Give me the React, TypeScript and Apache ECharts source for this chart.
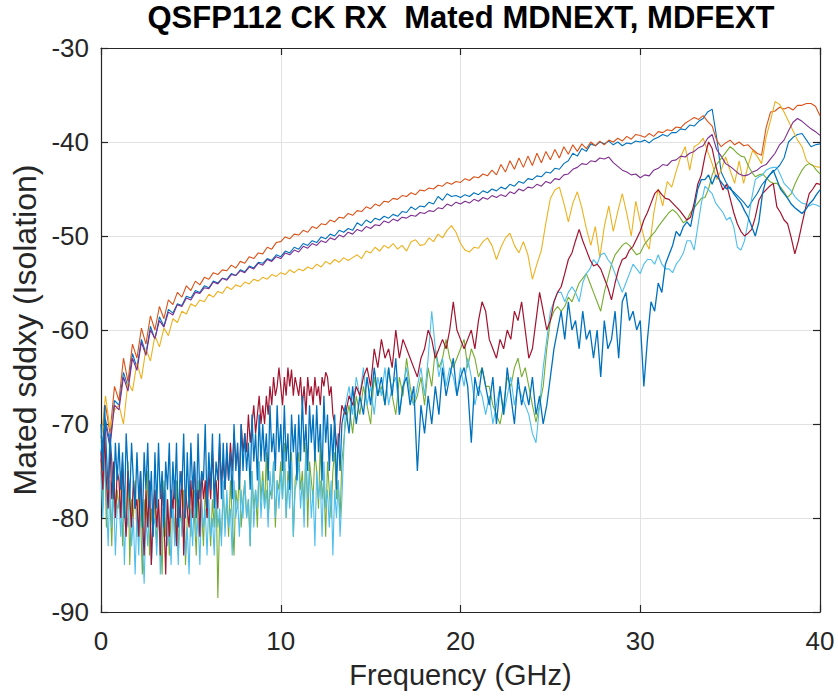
import React, { useEffect, useRef } from "react";
import * as echarts from "echarts";

const TITLE = "QSFP112 CK RX  Mated MDNEXT, MDFEXT";
const X_NAME = "Frequency (GHz)";
const Y_NAME = "Mated sddxy (Isolation)";
const X_MIN = 0;
const X_MAX = 40;
const X_INTERVAL = 10;
const Y_MIN = -90;
const Y_MAX = -30;
const Y_INTERVAL = 10;

// NEXT curves: sampled every 0.25 GHz from 0 to 40 GHz
const NEXT_STEP = 0.25;
// FEXT curves: every 0.1 GHz from 0 to 13.4 GHz, then every 0.2 GHz from 13.6 to 40 GHz
const FEXT_LOW_STEP = 0.1;
const FEXT_HIGH_START = 13.6;
const FEXT_HIGH_STEP = 0.2;

const NEXT_BLUE = [
  -73, -69.5, -72, -67.5, -68, -64.5, -66, -62.5,
  -64, -61, -62.5, -59.6, -61, -58.6, -59.6, -57.8,
  -58.2, -57.2, -57.4, -56.4, -56.6, -55.8, -56, -55.3,
  -55.5, -54.8, -55, -54.5, -54.6, -54, -54.2, -53.6,
  -53.8, -53.2, -53.4, -52.8, -52.9, -52.4, -52.6, -52,
  -52.2, -51.6, -51.8, -51.2, -51.4, -50.8, -51, -50.5,
  -50.7, -50.1, -50.3, -49.8, -50, -49.4, -49.6, -49.2,
  -49.4, -48.6, -48.9, -48.3, -48.6, -48.1, -48.3, -47.9,
  -48.1, -47.7, -47.9, -47.4, -47.5, -46.9, -47.2, -46.8,
  -46.9, -46.4, -46.6, -45.8, -46.2, -45.5, -45.8, -45.7,
  -45.9, -45.6, -45.8, -45.4, -45.6, -45.2, -45.4, -45.0,
  -45.2, -44.8, -45.0, -44.5, -44.7, -44.2, -44.4, -43.9,
  -44.0, -43.6, -43.7, -43.2, -43.3, -42.8, -42.9, -42.3,
  -42.0, -41.2, -41.5, -40.7, -41.0, -40.2, -40.4, -40.0,
  -40.2, -39.9, -40.3, -40.0, -40.4, -40.1, -40.2, -39.9,
  -40.0, -39.8, -40.1, -39.7, -39.5, -39.2, -39.4, -39.0,
  -39.0, -38.6, -38.7, -38.2, -38.3, -37.8, -37.5, -36.8,
  -36.5, -39.5, -43.2, -44.2, -45.0, -45.4, -45.9, -46.4,
  -47.0, -46.2, -45.5, -44.6, -44.0, -43.4, -43.0, -42.5,
  -41.7, -40.0, -39.5, -39.2, -39.1, -39.8, -40.5, -40.3,
  -40.2,
];

const NEXT_ORANGE = [
  -71.5, -68, -71, -66, -67.5, -63, -65.5, -61.5,
  -63, -59.8, -61.5, -58.5, -60, -57.5, -58.8, -56.8,
  -57.3, -56, -56.5, -55.3, -55.8, -54.8, -55.2, -54.4,
  -54.6, -53.9, -54.1, -53.6, -53.7, -53.1, -53.4, -52.7,
  -52.9, -52.2, -52.4, -51.8, -51.9, -51.2, -51.4, -50.7,
  -50.6, -50.1, -50.3, -49.8, -49.9, -49.4, -49.6, -49.0,
  -49.2, -48.7, -48.8, -48.3, -48.5, -48.0, -48.1, -47.6,
  -47.8, -47.3, -47.4, -46.9, -47.1, -46.6, -46.8, -46.3,
  -46.4, -46.0, -46.1, -45.7, -45.8, -45.4, -45.6, -45.1,
  -45.2, -44.9, -45.0, -44.6, -44.7, -44.3, -44.5, -44.2,
  -44.3, -43.9, -44.1, -43.7, -43.8, -43.4, -43.6, -43.0,
  -43.5, -42.4, -43.2, -42.0, -42.9, -41.7, -42.7, -41.5,
  -42.5, -41.2, -42.2, -41.0, -41.9, -40.8, -41.7, -40.5,
  -41.3, -40.3, -41.0, -40.2, -40.7, -40.0, -40.4, -39.9,
  -40.3, -39.8, -40.0, -39.6, -39.9, -39.4, -39.7, -39.2,
  -39.3, -39.5, -39.1, -39.4, -38.9, -39.0, -38.7, -38.8,
  -38.4, -38.5, -38.0, -37.7, -37.4, -37.6, -37.2, -37.8,
  -38.3, -39.8, -40.5, -40.1, -39.8, -40.3, -40.0, -40.4,
  -40.3, -40.8, -41.2, -41.4, -38.5, -36.8, -36.7, -36.3,
  -36.5, -36.3, -36.6, -36.1, -36.1, -35.9, -35.9, -36.2,
  -37.2,
];

const NEXT_YELLOW = [
  -72, -67, -70.5, -68.5, -68, -70, -65.5, -66.5,
  -63.5, -65.2, -62, -63.3, -60.6, -61.8, -59.8, -60.6,
  -58.8, -59.2, -58, -58.3, -57.2, -57.5, -56.8, -57,
  -56.2, -56.5, -55.9, -56.1, -55.4, -55.7, -55.2, -55.4,
  -54.9, -55.1, -54.6, -54.8, -54.4, -54.6, -54.1, -54.3,
  -53.9, -54.1, -53.6, -53.9, -53.5, -53.7, -53.3, -53.5,
  -53.0, -53.3, -52.7, -53.0, -52.5, -52.8, -52.3, -52.6,
  -52.3, -52.0, -52.4, -51.6, -51.8, -51.2, -51.6, -51.0,
  -51.3, -50.8, -51.4, -51.0, -51.6, -50.6, -50.4, -51.0,
  -50.9, -50.2, -50.6, -49.8, -50.2, -49.4, -48.9, -49.6,
  -50.8, -51.5, -51.7, -51.2, -51.3, -50.6, -50.2, -51.0,
  -52.5, -51.2, -50.2, -49.7, -51.0, -51.8, -50.6, -52.0,
  -54.6, -53.0, -51.5, -48.6, -46.0, -45.1, -44.8, -46.5,
  -48.5, -46.5, -45.3, -47.0, -49.2, -51.0, -49.0, -52.3,
  -49.0, -46.8, -49.5, -47.4, -45.5, -47.6, -50.0, -46.3,
  -48.5, -50.5, -51.4, -47.6, -45.0, -46.8, -44.2, -44.8,
  -43.1, -41.6, -40.5, -43.0, -40.5, -40.2, -39.6, -41.0,
  -42.3, -44.0, -43.0, -41.6, -43.0, -44.4, -42.0, -44.4,
  -42.5, -40.9, -41.5, -42.3, -39.5, -37.7, -35.7, -36.0,
  -36.8, -37.8, -38.8, -39.8, -40.5, -42.0, -42.4, -42.6,
  -42.7,
];

const NEXT_PURPLE = [
  -74, -70, -72.5, -68, -68.5, -65, -66.5, -63,
  -64.3, -61.3, -62.7, -60, -60.9, -59, -59.7, -58.1,
  -58.4, -57.3, -57.5, -56.6, -56.8, -56, -56.1, -55.5,
  -55.6, -54.9, -55.1, -54.5, -54.7, -54.1, -54.2, -53.7,
  -53.9, -53.3, -53.5, -52.9, -53.1, -52.5, -52.7, -52.2,
  -52.4, -51.8, -52.0, -51.5, -51.7, -51.1, -51.3, -50.8,
  -51.0, -50.5, -50.7, -50.2, -50.4, -49.9, -50.1, -49.6,
  -49.8, -49.3, -49.5, -49.0, -49.2, -48.8, -48.9, -48.4,
  -48.6, -48.2, -48.4, -48.0, -48.1, -47.8, -47.9, -47.5,
  -47.6, -47.3, -47.4, -47.0, -47.1, -46.6, -46.8, -46.4,
  -46.6, -46.3, -46.5, -46.1, -46.3, -45.9, -46.1, -45.7,
  -45.9, -45.6, -45.8, -45.3, -45.5, -45.0, -45.2, -44.8,
  -44.9, -44.5, -44.7, -44.2, -44.4, -43.9, -44.0, -43.5,
  -43.4, -42.9, -42.7, -42.3, -42.4, -42.0, -42.1, -41.7,
  -41.8, -41.6, -42.2, -42.6, -43.0, -43.2, -43.5, -43.4,
  -43.8, -43.5, -43.6, -43.0, -42.8, -42.4, -42.5, -42.0,
  -41.9, -41.5, -41.6, -41.2, -41.0, -40.6, -40.4, -39.6,
  -39.2, -40.8, -41.5, -42.3, -42.6, -43.0, -43.4, -43.6,
  -43.5, -43.2, -43.0, -42.6, -42.4, -41.8, -41.2, -40.3,
  -39.8, -38.8, -37.9, -37.5, -37.8, -38.2, -38.6, -38.9,
  -39.3,
];

// ---- FEXT, 0 to 13.4 GHz (0.1 GHz steps) ----
const FEXT_GREEN_LOW = [
  -74, -79, -72, -81, -76, -78, -83, -75, -80, -77,
  -79, -75, -83, -77, -81, -74, -85, -78, -80, -76,
  -82, -77, -80, -86, -78, -81, -75, -84, -79, -82,
  -77, -83, -79, -81, -86, -76, -82, -78, -84, -80,
  -78, -82, -76, -84, -79, -81, -77, -85, -80, -78,
  -82, -77, -80, -84, -76, -81, -79, -83, -77, -80,
  -79, -83, -78, -81, -76, -88.5, -80, -82, -77, -81,
  -78, -82, -76, -80, -84, -77, -79, -75, -81, -78,
  -76, -80, -78, -83, -75, -79, -77, -81, -74, -78,
  -75, -79, -73, -80, -77, -78, -74, -81, -76, -77,
  -74, -78, -72, -80, -75, -77, -73, -82, -76, -75,
  -73, -77, -75, -79, -72, -81, -74, -76, -78, -73,
  -75, -79, -72, -78, -76, -82, -74, -77, -80, -75,
  -73, -78, -76, -80, -74,
];

const FEXT_LIGHTBLUE_LOW = [
  -75, -80, -73, -78, -83, -76, -81, -77, -84, -79,
  -78, -82, -76, -85, -79, -81, -77, -83, -80, -86,
  -79, -84, -77, -82, -87, -80, -83, -78, -85, -81,
  -80, -84, -78, -86, -79, -82, -77, -83, -81, -85,
  -78, -83, -80, -85, -77, -82, -79, -84, -81, -86,
  -79, -83, -77, -82, -80, -85, -78, -81, -79, -84,
  -78, -82, -80, -84, -77, -81, -79, -83, -76, -82,
  -77, -81, -79, -84, -76, -80, -78, -82, -77, -80,
  -76, -80, -78, -83, -75, -81, -77, -79, -74, -80,
  -76, -79, -77, -81, -75, -78, -74, -80, -76, -79,
  -75, -78, -73, -80, -76, -79, -74, -82, -77, -76,
  -74, -79, -76, -81, -73, -78, -75, -80, -77, -83,
  -75, -78, -76, -82, -74, -79, -77, -81, -76, -84,
  -77, -80, -76, -82, -78,
];

const FEXT_DARKRED_LOW = [
  -73, -77, -71, -76, -79, -72, -78, -74, -80, -75,
  -76, -80, -74, -79, -82, -75, -78, -81, -76, -79,
  -78, -82, -75, -80, -84, -77, -81, -76, -85, -79,
  -77, -81, -78, -84, -76, -80, -86, -78, -82, -77,
  -79, -76, -83, -78, -80, -75, -84, -77, -79, -81,
  -76, -80, -74, -79, -77, -82, -75, -78, -76, -80,
  -75, -78, -73, -77, -76, -79, -72, -76, -74, -77,
  -73, -76, -72, -75, -71, -74, -73, -76, -70, -73,
  -71, -73, -69, -72, -70, -68, -71, -69, -67, -70,
  -68, -70, -67, -69, -66, -68, -65, -67, -66, -64,
  -66, -68, -65, -67, -64, -66, -64.2, -67, -65, -66,
  -67, -65, -68, -66, -69, -65, -67, -66, -68, -65,
  -67, -66, -68, -65, -66, -64.5, -65, -67, -66, -69,
  -70, -72, -73, -70, -68,
];

const FEXT_BLUE_LOW = [
  -70, -75, -68, -73, -77, -71, -74, -78, -72, -76,
  -72, -77, -73, -80, -71, -75, -78, -72, -76, -79,
  -73, -78, -75, -81, -73, -77, -72, -79, -75, -82,
  -73, -79, -72, -78, -75, -81, -74, -77, -72, -80,
  -74, -78, -72, -81, -75, -77, -71, -80, -73, -79,
  -72, -77, -74, -80, -71, -78, -75, -76, -70, -79,
  -73, -77, -71, -79, -74, -76, -71, -78, -72, -77,
  -72, -76, -73, -78, -70, -75, -72, -77, -70, -75,
  -71, -75, -72, -77, -69, -74, -71, -76, -69, -74,
  -70, -74, -71, -76, -68, -73, -71, -75, -68, -73,
  -70, -75, -68, -74, -71, -77, -69, -73, -70, -76,
  -69, -74, -67, -73, -70, -75, -68, -72, -69, -74,
  -68, -73, -70, -76, -67, -72, -69, -75, -70, -74,
  -69, -77, -71, -75, -70,
];

// ---- FEXT, 13.6 to 40 GHz (0.2 GHz steps) ----
const FEXT_GREEN_HIGH = [
  -70, -68, -71, -67, -69, -66, -68, -70, -65, -67,
  -66, -68, -64, -67, -69, -65, -67, -63, -66, -68,
  -67, -65, -68, -64, -66, -62, -64, -63, -61, -63,
  -64, -63, -62, -61, -64, -62, -63, -65, -64, -66,
  -66, -68, -69, -70, -68, -65, -66, -64, -63, -65,
  -64, -66, -68, -69.8, -68, -66, -62, -59, -58, -57.5,
  -58, -57.5, -56.5, -57, -56, -55, -54.5, -54, -55, -56,
  -57, -58, -56, -54.5, -53, -52, -51.5, -51, -50.7, -51,
  -51.5, -52, -51.8, -51, -50.5, -50, -49.6, -49, -48.5, -48,
  -47.5, -47.2, -47.5, -48, -48.6, -48.3, -47.5, -47, -46.5, -46,
  -45.9, -45, -43.5, -42.5, -42, -41.5, -41, -40.5, -40.8, -41.2,
  -41.5, -41.6, -42.5, -43.2, -43.7, -43.5, -43.4, -43.8, -44.2, -44.4,
  -44.4, -44.8, -45.3, -45.9, -45.5, -44.5, -43.7, -43, -42.5, -42.3,
  -42.5, -43, -43.4,
];

const FEXT_LIGHTBLUE_HIGH = [
  -68, -66, -69, -65, -67, -64, -68, -66, -69, -65,
  -67, -64, -68, -66, -65, -69, -66, -64, -67, -68,
  -66, -64, -67, -63, -58, -62, -65, -63, -66, -64,
  -65, -67, -64, -66, -63, -65, -68, -66, -67, -69,
  -67, -70, -68, -66, -69, -67, -65, -68, -66, -67,
  -68, -69, -71, -72, -68, -64, -61, -58, -57, -56,
  -56, -57, -56, -55.4, -56, -57, -55, -54, -53.5, -52.5,
  -53, -52, -51.8, -52.5, -53, -54, -55, -56, -55, -54,
  -53, -53.5, -54, -53, -52.5, -52.5, -53, -52, -53, -53.5,
  -53.5, -53.9, -53, -52.5, -51.8, -50.5, -50.5, -51.5, -49, -46.5,
  -44.7, -45.1, -45.5, -46.5, -47, -47.5, -48.3, -48, -49, -51.2,
  -51.5, -50.5, -48.5, -46, -44, -43.7, -43.5, -43, -42.8, -42.7,
  -42.7, -43.5, -44.4, -44.8, -45.2, -45.8, -46.2, -46.5, -46.6, -46.8,
  -46.6, -46.7, -46.9,
];

const FEXT_DARKRED_HIGH = [
  -69, -67, -68, -66, -67, -65, -64, -66, -62, -64,
  -61, -63, -62, -64, -60, -63, -61, -62, -63, -64,
  -65, -63, -62, -60, -61, -63, -62, -61, -62, -60,
  -57, -60, -61, -62, -61, -60, -62, -59, -57, -58,
  -61, -62, -63, -61, -62, -60, -61, -58, -59, -57,
  -60, -63, -62, -59, -56, -58, -60, -59, -57, -56,
  -55.4, -54, -52.5, -51.8, -50.5, -49.3, -50.5, -51.5, -52.5, -53.2,
  -53, -53.5, -54.5, -55.5, -56.8, -55, -53.5, -52.5, -52.3, -51.5,
  -51.1, -50.3, -49.5, -48.3, -47.5, -46.5, -45.5, -45.1, -45.6, -46.0,
  -46.1, -46.5, -46.9, -47.3, -47.8, -48.3, -48.0, -46.5, -44.5, -43.5,
  -41.5, -40.0, -40.7, -42.5, -44.0, -45.1, -44.5, -46, -47.5, -48.7,
  -49.5, -50, -49.7, -49.3, -48, -46.2, -45.5, -45.1, -44.7, -44.4,
  -46.9, -47.5, -48.3, -48.7, -50.2, -51.9, -50.5, -48.7, -47, -45.5,
  -45, -44.4, -44.5,
];

const FEXT_BLUE_HIGH = [
  -68, -71, -66, -70, -67, -69, -65, -68, -64, -67,
  -65, -68, -64, -67, -63, -69, -66, -65, -68, -66,
  -75, -68, -71, -67, -70, -66, -69, -64, -67, -65,
  -63, -67, -65, -64, -66, -72, -65, -67, -64, -66,
  -68, -65, -70, -66, -69, -64, -67, -70, -65, -68,
  -66, -68, -65, -69, -67, -70, -68, -65, -62, -60,
  -58, -61, -57, -60, -59, -62, -58, -61, -60, -63,
  -60, -65, -59, -62, -61, -58, -63, -57, -56, -59,
  -58, -60, -59, -66, -61, -57, -58, -55, -56, -53,
  -52, -51, -49.5, -50, -49, -48.5, -49, -47, -45, -44,
  -44, -43.5, -44.5, -43.5, -44, -44.5, -45, -44.8, -45.5, -46,
  -46.5, -47.3, -48, -49, -50, -48.5, -45.5, -44, -43.5, -43,
  -44, -45, -45.5, -46, -46.6, -47, -47.3, -47.6, -47.2, -46.6,
  -46.2, -45.6, -45.1,
];

const FONT = '"Liberation Sans", Arial, Helvetica, sans-serif';
const AXIS_COLOR = "#262626";
const GRID_COLOR = "#e2e2e2";

const nextPoints = (vals: number[]) =>
  vals.map((v, i) => [Number((i * NEXT_STEP).toFixed(3)), v]);

const fextPoints = (low: number[], high: number[]) => [
  ...low.map((v, i) => [Number((i * FEXT_LOW_STEP).toFixed(3)), v]),
  ...high.map((v, i) => [Number((FEXT_HIGH_START + i * FEXT_HIGH_STEP).toFixed(3)), v]),
];

const SERIES_DEFS = [
  { name: "NEXT 1", color: "#0072BD", data: nextPoints(NEXT_BLUE), width: 1.1 },
  { name: "NEXT 2", color: "#D95319", data: nextPoints(NEXT_ORANGE), width: 1.1 },
  { name: "NEXT 3", color: "#EDB120", data: nextPoints(NEXT_YELLOW), width: 1.1 },
  { name: "NEXT 4", color: "#7E2F8E", data: nextPoints(NEXT_PURPLE), width: 1.1 },
  { name: "FEXT 1", color: "#77AC30", data: fextPoints(FEXT_GREEN_LOW, FEXT_GREEN_HIGH), width: 1.1 },
  { name: "FEXT 2", color: "#4DBEEE", data: fextPoints(FEXT_LIGHTBLUE_LOW, FEXT_LIGHTBLUE_HIGH), width: 1.1 },
  { name: "FEXT 3", color: "#A2142F", data: fextPoints(FEXT_DARKRED_LOW, FEXT_DARKRED_HIGH), width: 1.2 },
  { name: "FEXT 4", color: "#0072BD", data: fextPoints(FEXT_BLUE_LOW, FEXT_BLUE_HIGH), width: 1.3 },
];

export default function App() {
  const ref = useRef<HTMLDivElement>(null);

  useEffect(() => {
    if (!ref.current) return;
    const chart = echarts.init(ref.current, undefined, { renderer: "svg" });

    const baseAxis = {
      axisLine: { show: true, onZero: false, lineStyle: { color: AXIS_COLOR, width: 1.2 } },
      axisTick: { show: true, inside: true, length: 7, lineStyle: { color: AXIS_COLOR, width: 1.2 } },
    };

    const option = {
      animation: false,
      backgroundColor: "#ffffff",
      textStyle: { fontFamily: FONT },
      grid: { left: 101, top: 48, width: 719, height: 564, containLabel: false },
      graphic: [
        {
          type: "text",
          x: 461,
          y: 17,
          style: {
            text: TITLE,
            fill: "#000000",
            font: `bold 31px ${FONT}`,
            align: "center",
            verticalAlign: "middle",
            textAlign: "center",
            textVerticalAlign: "middle",
          },
        },
      ],
      xAxis: [
        {
          type: "value",
          position: "bottom",
          min: X_MIN,
          max: X_MAX,
          interval: X_INTERVAL,
          ...baseAxis,
          axisLabel: { show: true, fontSize: 26, color: AXIS_COLOR, margin: 16, fontFamily: FONT },
          splitLine: { show: true, lineStyle: { color: GRID_COLOR, width: 1 } },
          name: X_NAME,
          nameLocation: "middle",
          nameGap: 48,
          nameTextStyle: { fontSize: 29, color: AXIS_COLOR, fontFamily: FONT },
        },
        {
          type: "value",
          position: "top",
          min: X_MIN,
          max: X_MAX,
          interval: X_INTERVAL,
          ...baseAxis,
          axisLabel: { show: false },
          splitLine: { show: false },
        },
      ],
      yAxis: [
        {
          type: "value",
          position: "left",
          min: Y_MIN,
          max: Y_MAX,
          interval: Y_INTERVAL,
          ...baseAxis,
          axisLabel: { show: true, fontSize: 26, color: AXIS_COLOR, margin: 12, fontFamily: FONT },
          splitLine: { show: true, lineStyle: { color: GRID_COLOR, width: 1 } },
          name: Y_NAME,
          nameLocation: "middle",
          nameRotate: 90,
          nameGap: 58,
          nameTextStyle: { fontSize: 32, color: AXIS_COLOR, fontFamily: FONT },
        },
        {
          type: "value",
          position: "right",
          min: Y_MIN,
          max: Y_MAX,
          interval: Y_INTERVAL,
          ...baseAxis,
          axisLabel: { show: false },
          splitLine: { show: false },
        },
      ],
      series: SERIES_DEFS.map((d) => ({
        name: d.name,
        type: "line",
        xAxisIndex: 0,
        yAxisIndex: 0,
        showSymbol: false,
        symbol: "none",
        silent: true,
        clip: true,
        lineStyle: { color: d.color, width: d.width },
        itemStyle: { color: d.color },
        data: d.data,
      })),
    };

    chart.setOption(option as any);
    return () => {
      chart.dispose();
    };
  }, []);

  return (
    <div
      ref={ref}
      style={{ position: "fixed", left: 0, top: 0, width: 838, height: 696, background: "#fff" }}
    />
  );
}
